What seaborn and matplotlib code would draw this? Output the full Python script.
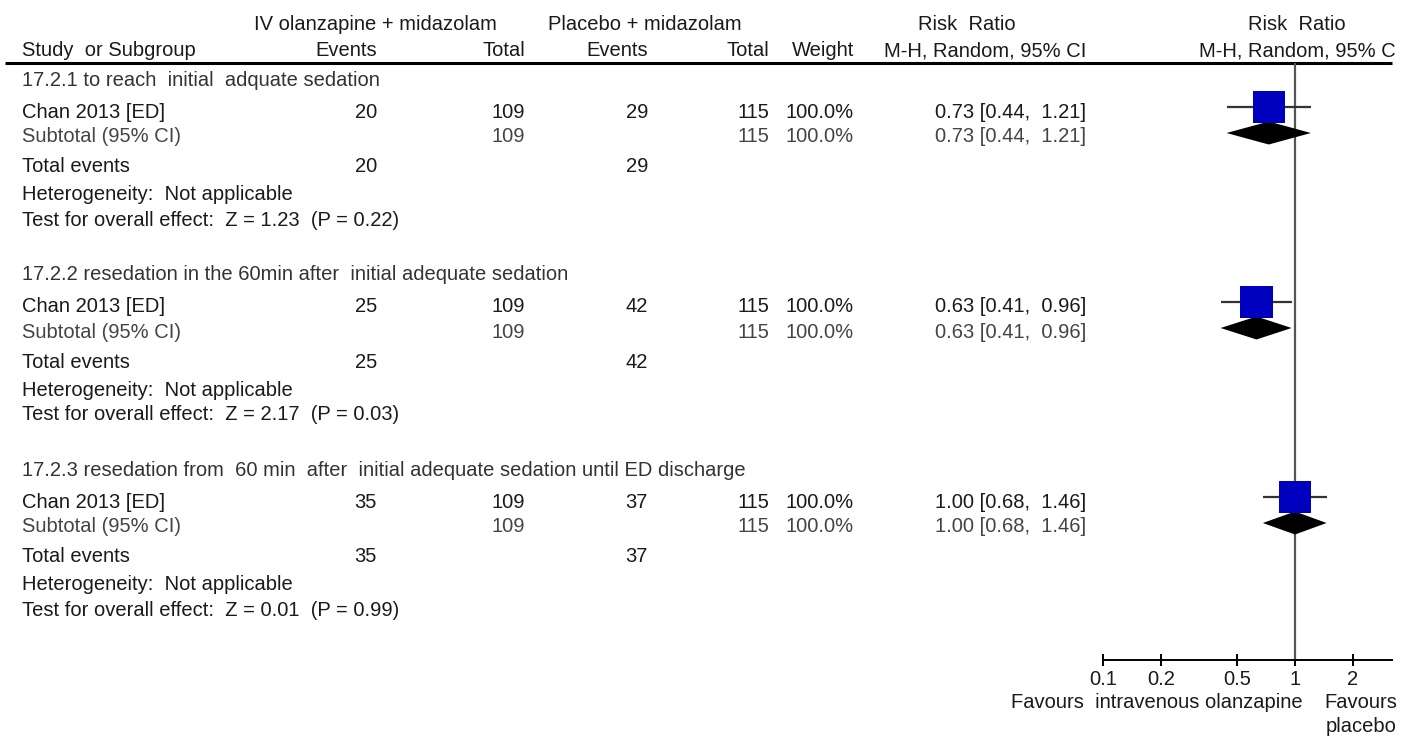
import numpy as np
import seaborn as sns
import matplotlib.pyplot as plt
from matplotlib.ticker import FixedLocator, FixedFormatter, NullLocator

# values
subgroups = [
    "17.2.1 to reach  initial  adquate sedation",
    "17.2.2 resedation in the 60min after  initial adequate sedation",
    "17.2.3 resedation from  60 min  after  initial adequate sedation until ED discharge",
]
study = "Chan 2013 [ED]"
olz_events = [20, 25, 35]
olz_total = [109, 109, 109]
pla_events = [29, 42, 37]
pla_total = [115, 115, 115]
weights = [100.0, 100.0, 100.0]
rr = [0.73, 0.63, 1.00]
ci_lo = [0.44, 0.41, 0.68]
ci_hi = [1.21, 0.96, 1.46]
z_vals = [1.23, 2.17, 0.01]
p_vals = [0.22, 0.03, 0.99]
tick_vals = [0.1, 0.2, 0.5, 1, 2]
tick_labels = ["0.1", "0.2", "0.5", "1", "2"]

sns.set_style("white")
plt.rcParams["font.family"] = ["Liberation Sans", "DejaVu Sans"]
FS = 14.5
TXT = "#1a1a1a"
SUB = "#444444"

W, H = 1401, 736
fig = plt.figure(figsize=(W / 100, H / 100), dpi=100)

# table area in pixel-like coordinates
tab = fig.add_axes([0, 0, 1, 1])
tab.set_xlim(0, W)
tab.set_ylim(H, 0)
tab.axis("off")

def put(x, y, s, ha="left", color=TXT):
    tab.text(x, y, s, ha=ha, va="center", fontsize=FS, color=color)

# column anchors
x_study = 22
x_oe, x_ot, x_pe, x_pt, x_w, x_ci = 377, 525, 648, 769, 854, 1086
x_plot = 1297

# headers
put(375, 25, "IV olanzapine + midazolam", ha="center")
put(645, 25, "Placebo + midazolam", ha="center")
put(967, 25, "Risk  Ratio", ha="center")
put(x_plot, 25, "Risk  Ratio", ha="center")
put(x_study, 51, "Study  or Subgroup")
put(x_oe, 51, "Events", ha="right")
put(x_ot, 51, "Total", ha="right")
put(x_pe, 51, "Events", ha="right")
put(x_pt, 51, "Total", ha="right")
put(x_w, 51, "Weight", ha="right")
put(x_ci, 51, "M-H, Random, 95% CI", ha="right")
put(x_plot, 51, "M-H, Random, 95% C", ha="center")
tab.plot([5, 1392], [63, 63], color="black", lw=2.2, solid_capstyle="butt")

sec = 195
row_study, row_sub = [], []
for i, g in enumerate(subgroups):
    y0 = 80 + i * sec
    ys, yb = y0 + 32, y0 + 57
    row_study.append(y0 + 27)
    row_sub.append(y0 + 53)
    put(x_study, y0, g, color="#333333")
    put(x_study, ys, study)
    put(x_oe, ys, str(olz_events[i]), ha="right")
    put(x_ot, ys, str(olz_total[i]), ha="right")
    put(x_pe, ys, str(pla_events[i]), ha="right")
    put(x_pt, ys, str(pla_total[i]), ha="right")
    put(x_w, ys, f"{weights[i]:.1f}%", ha="right")
    put(x_ci, ys, f"{rr[i]:.2f} [{ci_lo[i]:.2f},  {ci_hi[i]:.2f}]", ha="right")
    put(x_study, yb, "Subtotal (95% CI)", color=SUB)
    put(x_ot, yb, str(olz_total[i]), ha="right", color=SUB)
    put(x_pt, yb, str(pla_total[i]), ha="right", color=SUB)
    put(x_w, yb, f"{weights[i]:.1f}%", ha="right", color=SUB)
    put(x_ci, yb, f"{rr[i]:.2f} [{ci_lo[i]:.2f},  {ci_hi[i]:.2f}]", ha="right", color=SUB)
    put(x_study, y0 + 87, "Total events")
    put(x_oe, y0 + 87, str(olz_events[i]), ha="right")
    put(x_pe, y0 + 87, str(pla_events[i]), ha="right")
    put(x_study, y0 + 115, "Heterogeneity:  Not applicable")
    put(x_study, y0 + 140, f"Test for overall effect:  Z = {z_vals[i]:.2f}  (P = {p_vals[i]:.2f})")

# forest panel: log risk-ratio axis, y in the same pixel rows as the table
ax = fig.add_axes([1103 / W, (H - 660) / H, (1392 - 1103) / W, (660 - 63) / H])
ax.set_xscale("log")
ax.set_xlim(0.1, 3.2)
ax.set_ylim(660, 63)
ax.patch.set_alpha(0)

ax.axvline(1, color="#555555", lw=1.6, zorder=1)
ax.hlines(row_study, ci_lo, ci_hi, color="#333333", lw=1.6, zorder=2)
sns.scatterplot(x=rr, y=row_study, marker="s", s=[w / 100 * 540 for w in weights],
                color="#0000BF", linewidth=0, ax=ax, zorder=4, legend=False)
for i in range(len(rr)):
    yc, h = row_sub[i], 11.5
    ax.fill([ci_lo[i], rr[i], ci_hi[i], rr[i]], [yc, yc - h, yc, yc + h],
            color="black", lw=0, zorder=3)

for side in ["left", "right", "top"]:
    ax.spines[side].set_visible(False)
ax.spines["bottom"].set_color("black")
ax.spines["bottom"].set_linewidth(1.4)
ax.xaxis.set_major_locator(FixedLocator(tick_vals))
ax.xaxis.set_major_formatter(FixedFormatter(tick_labels))
ax.xaxis.set_minor_locator(NullLocator())
ax.tick_params(axis="x", which="major", bottom=True, direction="inout", length=9,
               width=1.4, color="black", labelsize=FS, labelcolor=TXT, pad=3)
ax.set_yticks([])
ax.set_xlabel("")
ax.set_ylabel("")

put(1303, 703, "Favours  intravenous olanzapine", ha="right")
put(1361, 703, "Favours", ha="center")
put(1361, 727, "placebo", ha="center")

fig.savefig("out.png", dpi=100)
